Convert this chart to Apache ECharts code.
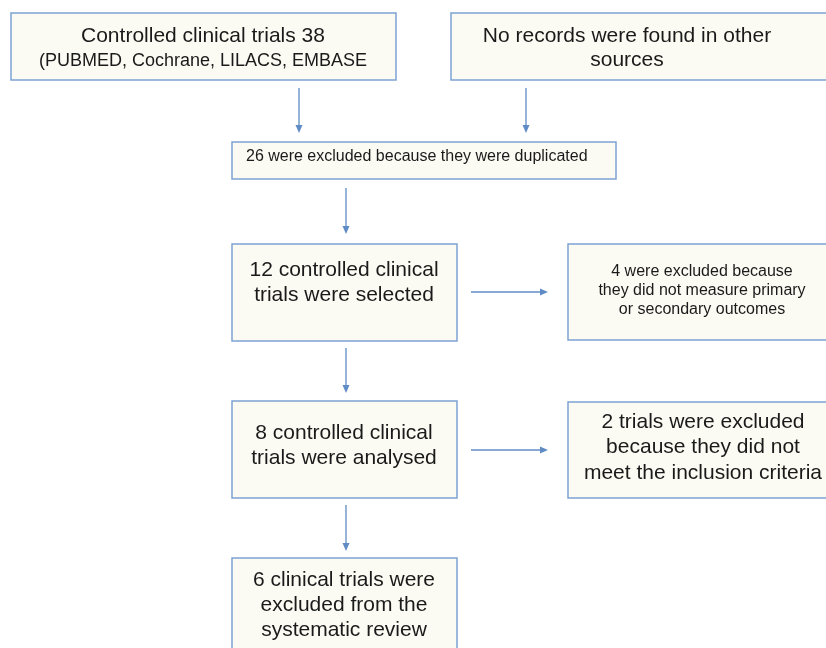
<!DOCTYPE html>
<html><head><meta charset="utf-8">
<script src="https://cdn.jsdelivr.net/npm/echarts@6/dist/echarts.min.js"></script>
<style>html,body{margin:0;padding:0;background:#fff}#c{width:826px;height:648px}</style>
</head><body><div id="c"></div>
<script>
// Text of each box (one entry per box, one string per line)
const boxLabels = [
  ["Controlled clinical trials 38", "(PUBMED, Cochrane, LILACS, EMBASE"],
  ["No records were found in other", "sources"],
  ["26 were excluded because they were duplicated"],
  ["12 controlled clinical", "trials were selected"],
  ["4 were excluded because", "they did not measure primary", "or secondary outcomes"],
  ["8 controlled clinical", "trials were analysed"],
  ["2 trials were excluded", "because they did not", "meet the inclusion criteria"],
  ["6 clinical trials were", "excluded from the", "systematic review"]
];

// Diagram geometry (diagram units, mapped through hidden value axes)
const boxFrames = [
  [11, 13, 396, 80],
  [451, 13, 840, 80],
  [232, 142, 616, 179],
  [232, 244, 457, 341],
  [568, 244, 840, 340],
  [232, 401, 457, 498],
  [568, 402, 840, 498],
  [232, 558, 457, 662]
];
const textLayout = [
  { x: 203, align: "center", sizes: [21, 18], base: [44, 67] },
  { x: 627, align: "center", sizes: [21, 21], base: [44, 68] },
  { x: 246, align: "left", sizes: [16], base: [162] },
  { x: 344, align: "center", sizes: [21, 21], base: [278, 303] },
  { x: 702, align: "center", sizes: [16, 16, 16], base: [277, 296, 315] },
  { x: 344, align: "center", sizes: [21, 21], base: [441, 466] },
  { x: 703, align: "center", sizes: [21, 21, 21], base: [430, 455, 481] },
  { x: 344, align: "center", sizes: [21, 21, 21], base: [588, 613, 638] }
];
const arrowPaths = [
  [299, 88, 299, 133],
  [526, 88, 526, 133],
  [346, 188, 346, 234],
  [471, 292, 548, 292],
  [346, 348, 346, 393],
  [471, 450, 548, 450],
  [346, 505, 346, 551]
];

const FONT = "'Liberation Sans', Arial, Helvetica, sans-serif";
const chart = echarts.init(document.getElementById('c'), null, { renderer: 'canvas' });

function renderBox(params, api) {
  const i = api.value(4);
  const p0 = api.coord([api.value(0), api.value(1)]);
  const p1 = api.coord([api.value(2), api.value(3)]);
  const children = [{
    type: 'rect',
    shape: { x: p0[0], y: p0[1], width: p1[0] - p0[0], height: p1[1] - p0[1] },
    style: { fill: '#fbfbf3', stroke: '#7ea2d2', lineWidth: 1.5 }
  }];
  const t = textLayout[i];
  boxLabels[i].forEach(function (line, k) {
    const fs = t.sizes[k];
    const pt = api.coord([t.x, t.base[k]]);
    children.push({
      type: 'text',
      style: {
        text: line, x: pt[0], y: pt[1] - 0.35 * fs,
        fill: '#1a1a1a', font: fs + 'px ' + FONT,
        align: t.align, verticalAlign: 'middle'
      }
    });
  });
  return { type: 'group', children: children };
}

function renderArrow(params, api) {
  const a = api.coord([api.value(0), api.value(1)]);
  const b = api.coord([api.value(2), api.value(3)]);
  const dx = b[0] - a[0], dy = b[1] - a[1];
  const len = Math.sqrt(dx * dx + dy * dy);
  const ux = dx / len, uy = dy / len;
  const hl = 8, hw = 3.5;
  const base = [b[0] - ux * hl, b[1] - uy * hl];
  return {
    type: 'group',
    children: [
      { type: 'line', shape: { x1: a[0], y1: a[1], x2: base[0], y2: base[1] },
        style: { stroke: '#5f8cc4', lineWidth: 1.3 } },
      { type: 'polygon', shape: { points: [
          [b[0], b[1]],
          [base[0] - uy * hw, base[1] + ux * hw],
          [base[0] + uy * hw, base[1] - ux * hw]
        ] }, style: { fill: '#5f8cc4' } }
    ]
  };
}

chart.setOption({
  animation: false,
  backgroundColor: '#ffffff',
  grid: { left: 0, right: 0, top: 0, bottom: 0 },
  xAxis: { type: 'value', min: 0, max: 826, show: false },
  yAxis: { type: 'value', min: 0, max: 648, inverse: true, show: false },
  series: [
    {
      type: 'custom', coordinateSystem: 'cartesian2d', clip: true,
      renderItem: renderBox,
      encode: { x: [0, 2], y: [1, 3] },
      data: boxFrames.map(function (f, i) { return f.concat([i]); })
    },
    {
      type: 'custom', coordinateSystem: 'cartesian2d', clip: true,
      renderItem: renderArrow,
      encode: { x: [0, 2], y: [1, 3] },
      data: arrowPaths
    }
  ]
});
</script></body></html>
